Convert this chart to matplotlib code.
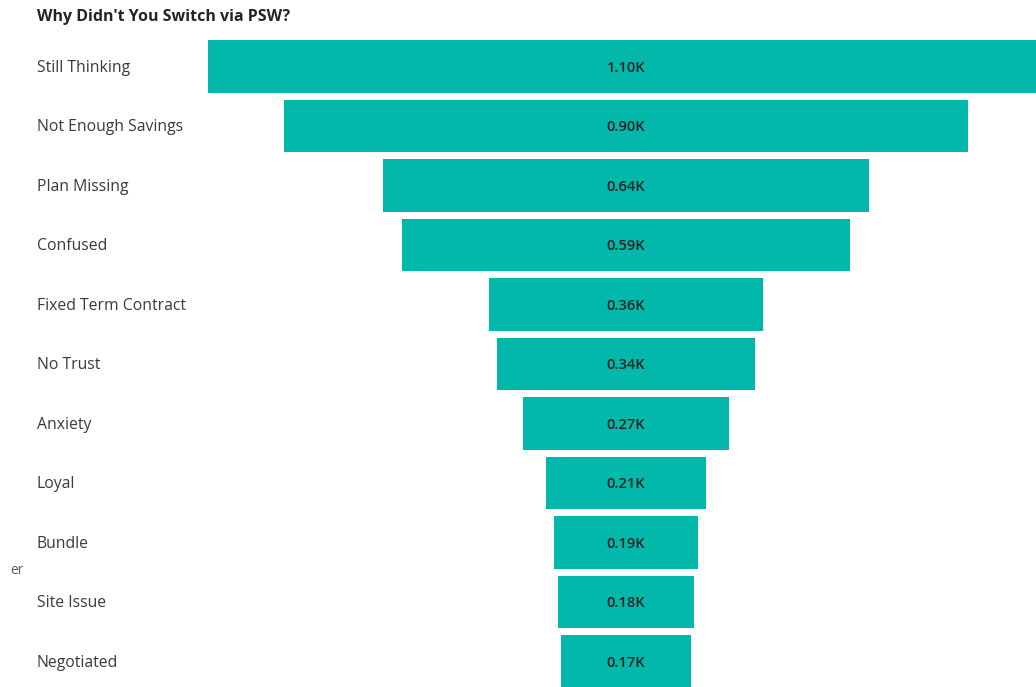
import matplotlib.pyplot as plt
import matplotlib.transforms as mtransforms

plt.rcParams['font.family'] = ['Open Sans', 'DejaVu Sans']

categories = ["Still Thinking", "Not Enough Savings", "Plan Missing", "Confused",
              "Fixed Term Contract", "No Trust", "Anxiety", "Loyal", "Bundle",
              "Site Issue", "Negotiated"]
values = [1.10, 0.90, 0.64, 0.59, 0.36, 0.34, 0.27, 0.21, 0.19, 0.18, 0.17]  # thousands
value_labels = ["1.10K", "0.90K", "0.64K", "0.59K", "0.36K", "0.34K", "0.27K",
                "0.21K", "0.19K", "0.18K", "0.17K"]

W, H = 1036, 687
fig = plt.figure(figsize=(W / 100, H / 100), dpi=100)
ax = fig.add_axes([0, 0, 1, 1])

# funnel: bars centred on one axis, width proportional to the value
px_per_unit = 836 / 1.10
center_px = 626
pitch = 59.5
first_center = 66.5
ax.set_xlim(-center_px / px_per_unit, (W - center_px) / px_per_unit)
ax.set_ylim((H - first_center) / pitch, -first_center / pitch)
ax.axis("off")

teal = "#01B8AA"
for i, (v, lab) in enumerate(zip(values, value_labels)):
    ax.barh(i, v, left=-v / 2, height=0.89, color=teal, edgecolor="none")
    ax.text(0, i + 0.02, lab, ha="center", va="center", fontsize=10.5,
            color="#252423", fontweight="semibold")

trans = mtransforms.blended_transform_factory(fig.transFigure, ax.transData)
for i, c in enumerate(categories):
    ax.text(37 / W, i + 0.02, c, transform=trans, ha="left", va="center",
            fontsize=11.3, color="#3b3a39")

fig.text(37 / W, 1 - 17 / H, "Why Didn't You Switch via PSW?", ha="left",
         va="center", fontsize=11.5, fontweight="bold", color="#252423")
fig.text(10 / W, 1 - 570 / H, "er", ha="left", va="center", fontsize=10,
         color="#605e5c")

fig.savefig("out.png", dpi=100)
